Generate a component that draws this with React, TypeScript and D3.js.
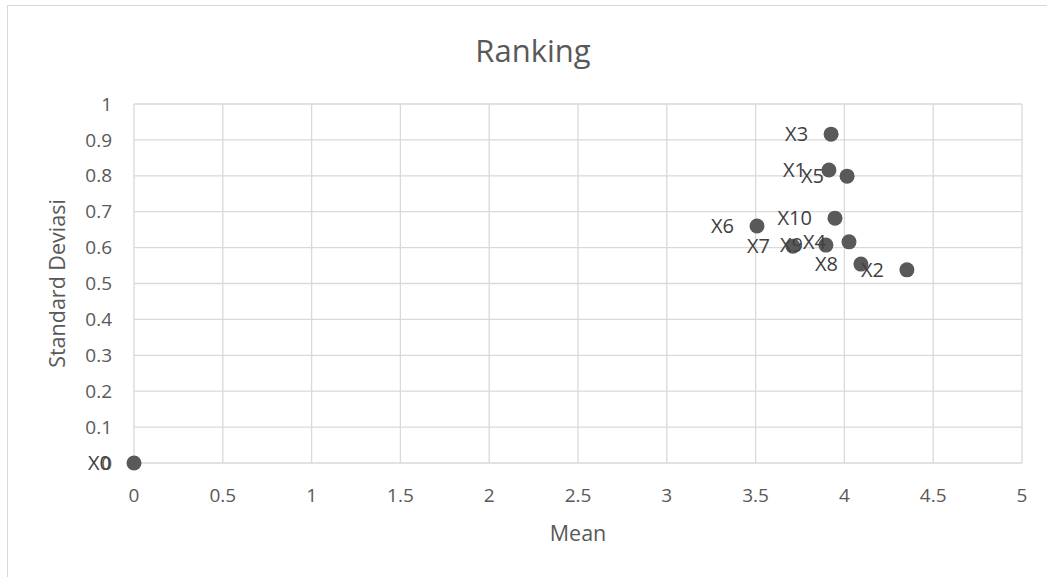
import React from "react";
import * as d3 from "d3";

const labels = ["X0", "X1", "X2", "X3", "X4", "X5", "X6", "X7", "X8", "X9", "X10"];
const meanValues = [0, 3.913, 4.352, 3.925, 4.026, 4.015, 3.508, 3.71, 4.093, 3.896, 3.947];
const sdValues = [0, 0.816, 0.538, 0.916, 0.616, 0.799, 0.66, 0.604, 0.554, 0.607, 0.682];
const xTicks = [0, 0.5, 1, 1.5, 2, 2.5, 3, 3.5, 4, 4.5, 5];
const yTicks = [0, 0.1, 0.2, 0.3, 0.4, 0.5, 0.6, 0.7, 0.8, 0.9, 1];

const W = 1047;
const H = 577;
const FONT = "'Open Sans', 'Noto Sans', sans-serif";

export default function App() {
  const x = d3.scaleLinear().domain([0, 5]).range([134, 1022]);
  const y = d3.scaleLinear().domain([0, 1]).range([463, 104]);
  const grid = "#d9d9d9";
  const text = "#595959";
  return (
    <svg
      width={W}
      height={H}
      style={{ position: "absolute", left: 0, top: 0, background: "#fff" }}
      fontFamily={FONT}
    >
      <rect x={7.5} y={5.5} width={1200} height={700} fill="#fff" stroke="#d9d9d9" />
      {xTicks.map((t) => (
        <line key={"gx" + t} x1={x(t)} x2={x(t)} y1={y(0)} y2={y(1)} stroke={grid} strokeWidth={1.3} />
      ))}
      {yTicks.map((t) => (
        <line key={"gy" + t} x1={x(0)} x2={x(5)} y1={y(t)} y2={y(t)} stroke={grid} strokeWidth={1.3} />
      ))}
      {xTicks.map((t) => (
        <text key={"tx" + t} x={x(t)} y={y(0) + 39} textAnchor="middle" fontSize={19} fill={text}>
          {String(t)}
        </text>
      ))}
      {yTicks.map((t) => (
        <text key={"ty" + t} x={x(0) - 22} y={y(t)} dy="0.35em" textAnchor="end" fontSize={19} fill={text}>
          {String(t)}
        </text>
      ))}
      <text x={533} y={62} textAnchor="middle" fontSize={31} fill={text}>
        Ranking
      </text>
      <text x={578} y={541} textAnchor="middle" fontSize={21.5} fill={text}>
        Mean
      </text>
      <text
        transform={`translate(57, ${(y(0) + y(1)) / 2}) rotate(-90)`}
        dy="0.35em"
        textAnchor="middle"
        fontSize={21.5}
        fill={text}
      >
        Standard Deviasi
      </text>
      {labels.map((l, i) => (
        <circle key={"c" + l} cx={x(meanValues[i])} cy={y(sdValues[i])} r={7.5} fill="#595959" />
      ))}
      {labels.map((l, i) => (
        <text
          key={"l" + l}
          x={x(meanValues[i]) - 23}
          y={y(sdValues[i])}
          dy="0.35em"
          textAnchor="end"
          fontSize={20}
          fill="#404040"
        >
          {l}
        </text>
      ))}
    </svg>
  );
}
